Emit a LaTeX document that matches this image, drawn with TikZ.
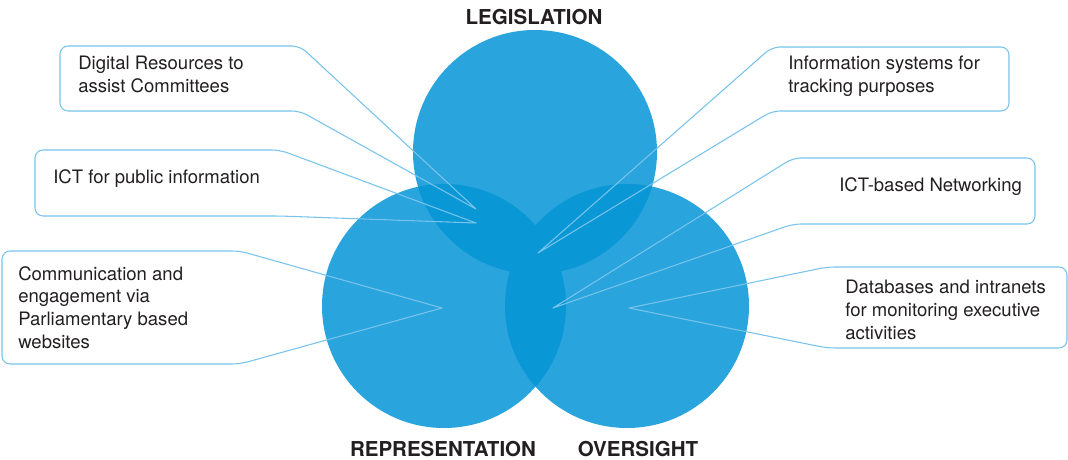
\documentclass[tikz,border=0pt]{standalone}
\usepackage{fontspec}
\setmainfont{TeX Gyre Heros}
\definecolor{circ}{RGB}{41,164,221}
\definecolor{circdark}{RGB}{9,151,213}
\definecolor{callout}{RGB}{120,195,236}
\definecolor{txt}{RGB}{35,31,32}
\begin{document}
\begin{tikzpicture}[x=0.75pt,y=-0.75pt,
  callout/.style={draw=callout, line width=0.8pt, rounded corners=6pt, line join=round, line cap=round},
  lbl/.style={font=\fontsize{13.9}{17}\selectfont, text=txt, align=left, inner sep=0pt, anchor=north west},
  ttl/.style={font=\fontsize{15.4}{18}\selectfont\bfseries, text=txt, inner sep=0pt}]
\useasboundingbox (0,0) rectangle (1068,460);
% circles
\coordinate (cL) at (535,152);
\coordinate (cR) at (444,306);
\coordinate (cO) at (627,306);
\fill[circ] (cL) circle[radius=91.5pt];
\fill[circ] (cR) circle[radius=91.5pt];
\fill[circ] (cO) circle[radius=91.5pt];
\begin{scope}
  \clip (cL) circle[radius=91.5pt];
  \fill[circdark] (cR) circle[radius=91.5pt];
  \fill[circdark] (cO) circle[radius=91.5pt];
\end{scope}
\begin{scope}
  \clip (cR) circle[radius=91.5pt];
  \fill[circdark] (cO) circle[radius=91.5pt];
\end{scope}
% titles
\node[ttl] (legis) at (534,17) {LEGISLATION};
\node[ttl] (repr) at (443,449) {REPRESENTATION};
\node[ttl] (overs) at (638,449) {OVERSIGHT};
% callout tips
\coordinate (t1) at (476,209);
\coordinate (t2) at (476,223);
\coordinate (t3) at (442,308);
\coordinate (t4) at (538,253);
\coordinate (t5) at (553,308);
\coordinate (t6) at (629,308);
% callouts
\draw[callout] (t1) -- (300,46) -- (60,46) -- (60,111) -- (300,111) -- (t1);
\draw[callout] (t2) -- (280,150) -- (35,150) -- (35,216) -- (280,216) -- (t2);
\draw[callout] (t3) -- (240,251) -- (2,251) -- (2,364) -- (240,364) -- (t3);
\draw[callout] (t4) -- (772,47) -- (1009,47) -- (1009,111) -- (772,111) -- (t4);
\draw[callout] (t5) -- (793,158) -- (1035,158) -- (1035,224) -- (793,224) -- (t5);
\draw[callout] (t6) -- (827,267) -- (1067,267) -- (1067,348) -- (827,348) -- (t6);
% labels
\node[lbl] (l1) at (78,56) {Digital Resources to\\assist Committees};
\node[lbl] (l2) at (53,169) {ICT for public information};
\node[lbl] (l3) at (18,266) {Communication and\\engagement via\\Parliamentary based\\websites};
\node[lbl] (l4) at (788,56) {Information systems for\\tracking purposes};
\node[lbl] (l5) at (839,177) {ICT-based Networking};
\node[lbl] (l6) at (845,280) {Databases and intranets\\for monitoring executive\\activities};
\end{tikzpicture}
\end{document}
